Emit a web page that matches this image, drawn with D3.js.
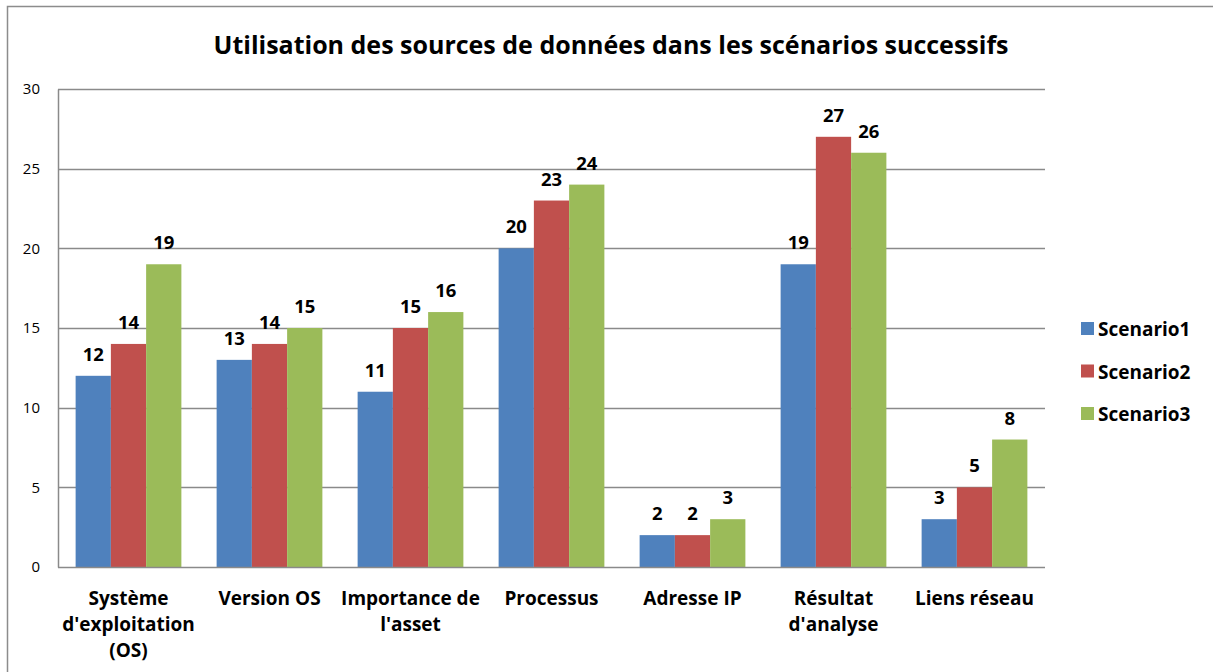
<!DOCTYPE html>
<html>
<head>
<meta charset="utf-8">
<script src="https://cdn.jsdelivr.net/npm/d3@7"></script>
<style>
  html, body { margin: 0; padding: 0; background: #fff; }
  svg { display: block; }
</style>
</head>
<body>
<svg id="chart" width="1213" height="672"></svg>
<script>
// Data sources and how often each scenario used them
const categories = [
  ["Système", "d'exploitation", "(OS)"],
  ["Version OS"],
  ["Importance de", "l'asset"],
  ["Processus"],
  ["Adresse IP"],
  ["Résultat", "d'analyse"],
  ["Liens réseau"]
];
const seriesNames = ["Scenario1", "Scenario2", "Scenario3"];
const scenario1 = [12, 13, 11, 20, 2, 19, 3];
const scenario2 = [14, 14, 15, 23, 2, 27, 5];
const scenario3 = [19, 15, 16, 24, 3, 26, 8];
const yTicks = [0, 5, 10, 15, 20, 25, 30];
const titleText = "Utilisation des sources de données dans les scénarios successifs";

const series = [scenario1, scenario2, scenario3];
const colors = ["#4F81BD", "#C0504D", "#9BBB59"];
const font = "'Open Sans', sans-serif";

const svg = d3.select("#chart");
const W = 1213, H = 672;
const plot = { left: 58, right: 1045, top: 89, bottom: 567 };

// chart frame
svg.append("rect")
  .attr("x", 7.5).attr("y", 6.5)
  .attr("width", W + 10).attr("height", H + 10)
  .attr("fill", "#fff").attr("stroke", "#8c8c8c").attr("stroke-width", 1.5);

// title
svg.append("text")
  .attr("x", 611).attr("y", 54)
  .attr("text-anchor", "middle")
  .attr("font-family", font).attr("font-weight", "bold")
  .attr("font-size", 25).attr("fill", "#000")
  .text(titleText);

const x0 = d3.scaleBand()
  .domain(d3.range(categories.length))
  .range([plot.left, plot.right])
  .paddingInner(0).paddingOuter(0);

const x1 = d3.scaleBand()
  .domain(d3.range(series.length))
  .range([x0.bandwidth() * 0.125, x0.bandwidth() * 0.875])
  .padding(0);

const y = d3.scaleLinear().domain([0, 30]).range([plot.bottom, plot.top]);

// gridlines
svg.append("g")
  .selectAll("line")
  .data(yTicks.filter(t => t > 0))
  .join("line")
  .attr("x1", plot.left).attr("x2", plot.right)
  .attr("y1", d => Math.round(y(d)) + 0.5).attr("y2", d => Math.round(y(d)) + 0.5)
  .attr("stroke", "#8a8a8a").attr("stroke-width", 1.5);

// y axis
const yAxis = svg.append("g")
  .attr("transform", `translate(${plot.left},0)`)
  .call(d3.axisLeft(y).tickValues(yTicks).tickSize(0).tickPadding(18));
yAxis.select(".domain").attr("stroke", "#8a8a8a").attr("stroke-width", 1.5);
yAxis.selectAll("text")
  .attr("font-family", font).attr("font-size", 15).attr("fill", "#000");

// bars
const groups = svg.append("g")
  .selectAll("g")
  .data(categories.map((c, i) => i))
  .join("g")
  .attr("transform", i => `translate(${x0(i)},0)`);

groups.selectAll("rect")
  .data(i => series.map((s, k) => ({ k, v: s[i] })))
  .join("rect")
  .attr("x", d => x1(d.k))
  .attr("width", x1.bandwidth())
  .attr("y", d => y(d.v))
  .attr("height", d => y(0) - y(d.v))
  .attr("fill", d => colors[d.k]);

// value labels
groups.selectAll("text.val")
  .data(i => series.map((s, k) => ({ k, v: s[i] })))
  .join("text")
  .attr("class", "val")
  .attr("x", d => x1(d.k) + x1.bandwidth() / 2)
  .attr("y", d => y(d.v) - 15)
  .attr("text-anchor", "middle")
  .attr("font-family", font).attr("font-weight", "bold")
  .attr("font-size", 18.5).attr("fill", "#000")
  .text(d => d.v);

// x axis line
svg.append("line")
  .attr("x1", plot.left).attr("x2", plot.right)
  .attr("y1", plot.bottom + 0.5).attr("y2", plot.bottom + 0.5)
  .attr("stroke", "#8a8a8a").attr("stroke-width", 1.5);

// category labels
const xAxis = svg.append("g");
xAxis.selectAll("text")
  .data(categories)
  .join("text")
  .attr("x", (c, i) => x0(i) + x0.bandwidth() / 2)
  .attr("y", 605)
  .attr("text-anchor", "middle")
  .attr("font-family", font).attr("font-weight", "bold")
  .attr("font-size", 19).attr("fill", "#000")
  .selectAll("tspan")
  .data(c => c)
  .join("tspan")
  .attr("x", function() { return this.parentNode.getAttribute("x"); })
  .attr("dy", (d, j) => j === 0 ? 0 : 26)
  .text(d => d);

// legend
const legend = svg.append("g")
  .selectAll("g")
  .data(seriesNames)
  .join("g")
  .attr("transform", (d, i) => `translate(1081,${329 + i * 42.5})`);
legend.append("rect")
  .attr("x", 0).attr("y", -7).attr("width", 13).attr("height", 13)
  .attr("fill", (d, i) => colors[i]);
legend.append("text")
  .attr("x", 17).attr("y", 7)
  .attr("font-family", font).attr("font-weight", "bold")
  .attr("font-size", 19).attr("fill", "#000")
  .text(d => d);
</script>
</body>
</html>
